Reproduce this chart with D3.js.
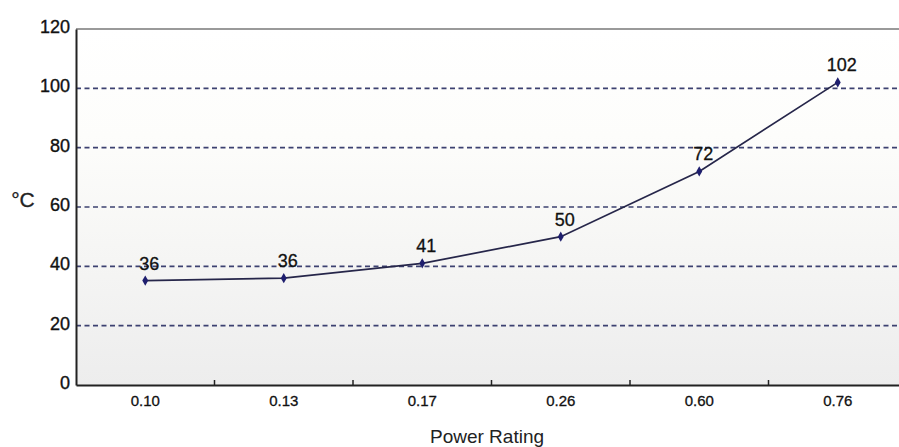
<!DOCTYPE html>
<html>
<head>
<meta charset="utf-8">
<script src="https://cdn.jsdelivr.net/npm/d3@7"></script>
<style>
  html, body { margin: 0; padding: 0; background: #fff; }
  svg { display: block; }
</style>
</head>
<body>
<svg id="chart" width="899" height="447"></svg>
<script>
// ---- data ----
const categories = ["0.10", "0.13", "0.17", "0.26", "0.60", "0.76"];
const temps = [35.2, 36, 41, 50, 72, 102];
const pointLabels = ["36", "36", "41", "50", "72", "102"];
const yTicks = [0, 20, 40, 60, 80, 100, 120];
const gridValues = [20, 40, 60, 80, 100];
const yTitle = "°C";
const xTitle = "Power Rating";

// ---- layout ----
const W = 899, H = 447;
const mLeft = 76, mRight = 907, mTop = 29, mBottom = 385;
const font = "Liberation Sans, Arial, sans-serif";

const svg = d3.select("#chart");

const x = d3.scaleBand().domain(categories).range([mLeft, mRight]).paddingInner(0).paddingOuter(0);
const y = d3.scaleLinear().domain([0, 120]).range([mBottom, mTop]);

// background gradient
const defs = svg.append("defs");
const grad = defs.append("linearGradient").attr("id", "bg").attr("x1", 0).attr("y1", 0).attr("x2", 0).attr("y2", 1);
grad.append("stop").attr("offset", "0%").attr("stop-color", "#ffffff");
grad.append("stop").attr("offset", "30%").attr("stop-color", "#fdfdfb");
grad.append("stop").attr("offset", "100%").attr("stop-color", "#ededed");

svg.append("rect")
  .attr("x", mLeft).attr("y", mTop)
  .attr("width", W - mLeft + 10).attr("height", mBottom - mTop)
  .attr("fill", "url(#bg)");

// top border
svg.append("line")
  .attr("x1", mLeft).attr("x2", W)
  .attr("y1", y(120)).attr("y2", y(120))
  .attr("stroke", "#9a9a9a").attr("stroke-width", 2);

// grid lines
svg.append("g").selectAll("line").data(gridValues).join("line")
  .attr("x1", mLeft).attr("x2", W)
  .attr("y1", d => y(d)).attr("y2", d => y(d))
  .attr("stroke", "#3c4170").attr("stroke-width", 1.6)
  .attr("stroke-dasharray", "5,3.5");

// y axis
const yAxis = d3.axisLeft(y).tickValues(yTicks).tickSize(0).tickPadding(6);
const gy = svg.append("g").attr("transform", `translate(${mLeft},0)`).call(yAxis);
gy.select(".domain").attr("stroke", "#222").attr("stroke-width", 2);
gy.selectAll("text")
  .attr("font-family", font).attr("font-size", 18).attr("fill", "#111")
  .attr("stroke", "#111").attr("stroke-width", 0.35)
  .attr("dy", "0.2em");

// x axis
const xAxis = d3.axisBottom(x).tickSize(0).tickPadding(10);
const gx = svg.append("g").attr("transform", `translate(0,${mBottom})`).call(xAxis);
gx.select(".domain").attr("stroke", "#222").attr("stroke-width", 2);
gx.selectAll("text")
  .attr("font-family", font).attr("font-size", 15).attr("fill", "#111")
  .attr("stroke", "#111").attr("stroke-width", 0.3);

// inner tick marks at band boundaries
svg.append("g").selectAll("line").data(categories.slice(1)).join("line")
  .attr("x1", d => x(d)).attr("x2", d => x(d))
  .attr("y1", mBottom).attr("y2", mBottom - 5)
  .attr("stroke", "#222").attr("stroke-width", 1.5);

// line
const cx = (d, i) => x(categories[i]) + x.bandwidth() / 2;
const line = d3.line().x((d, i) => cx(d, i)).y(d => y(d));
svg.append("path")
  .datum(temps)
  .attr("d", line)
  .attr("fill", "none")
  .attr("stroke", "#26264a")
  .attr("stroke-width", 1.7);

// markers
svg.append("g").selectAll("path").data(temps).join("path")
  .attr("transform", (d, i) => `translate(${cx(d, i)},${y(d)})`)
  .attr("d", d3.symbol().type(d3.symbolDiamond).size(30))
  .attr("fill", "#1e1e6e");

// point labels
svg.append("g").selectAll("text").data(temps).join("text")
  .attr("x", (d, i) => cx(d, i) + 4)
  .attr("y", d => y(d) - 11)
  .attr("text-anchor", "middle")
  .attr("font-family", font).attr("font-size", 18).attr("fill", "#111")
  .attr("stroke", "#111").attr("stroke-width", 0.3)
  .text((d, i) => pointLabels[i]);

// y title
svg.append("text")
  .attr("x", 23).attr("y", 207)
  .attr("text-anchor", "middle")
  .attr("font-family", font).attr("font-size", 21).attr("fill", "#222")
  .attr("stroke", "#222").attr("stroke-width", 0.3)
  .text(yTitle);

// x title
svg.append("text")
  .attr("x", 487).attr("y", 443)
  .attr("text-anchor", "middle")
  .attr("font-family", font).attr("font-size", 19).attr("fill", "#222")
  .text(xTitle);
</script>
</body>
</html>
